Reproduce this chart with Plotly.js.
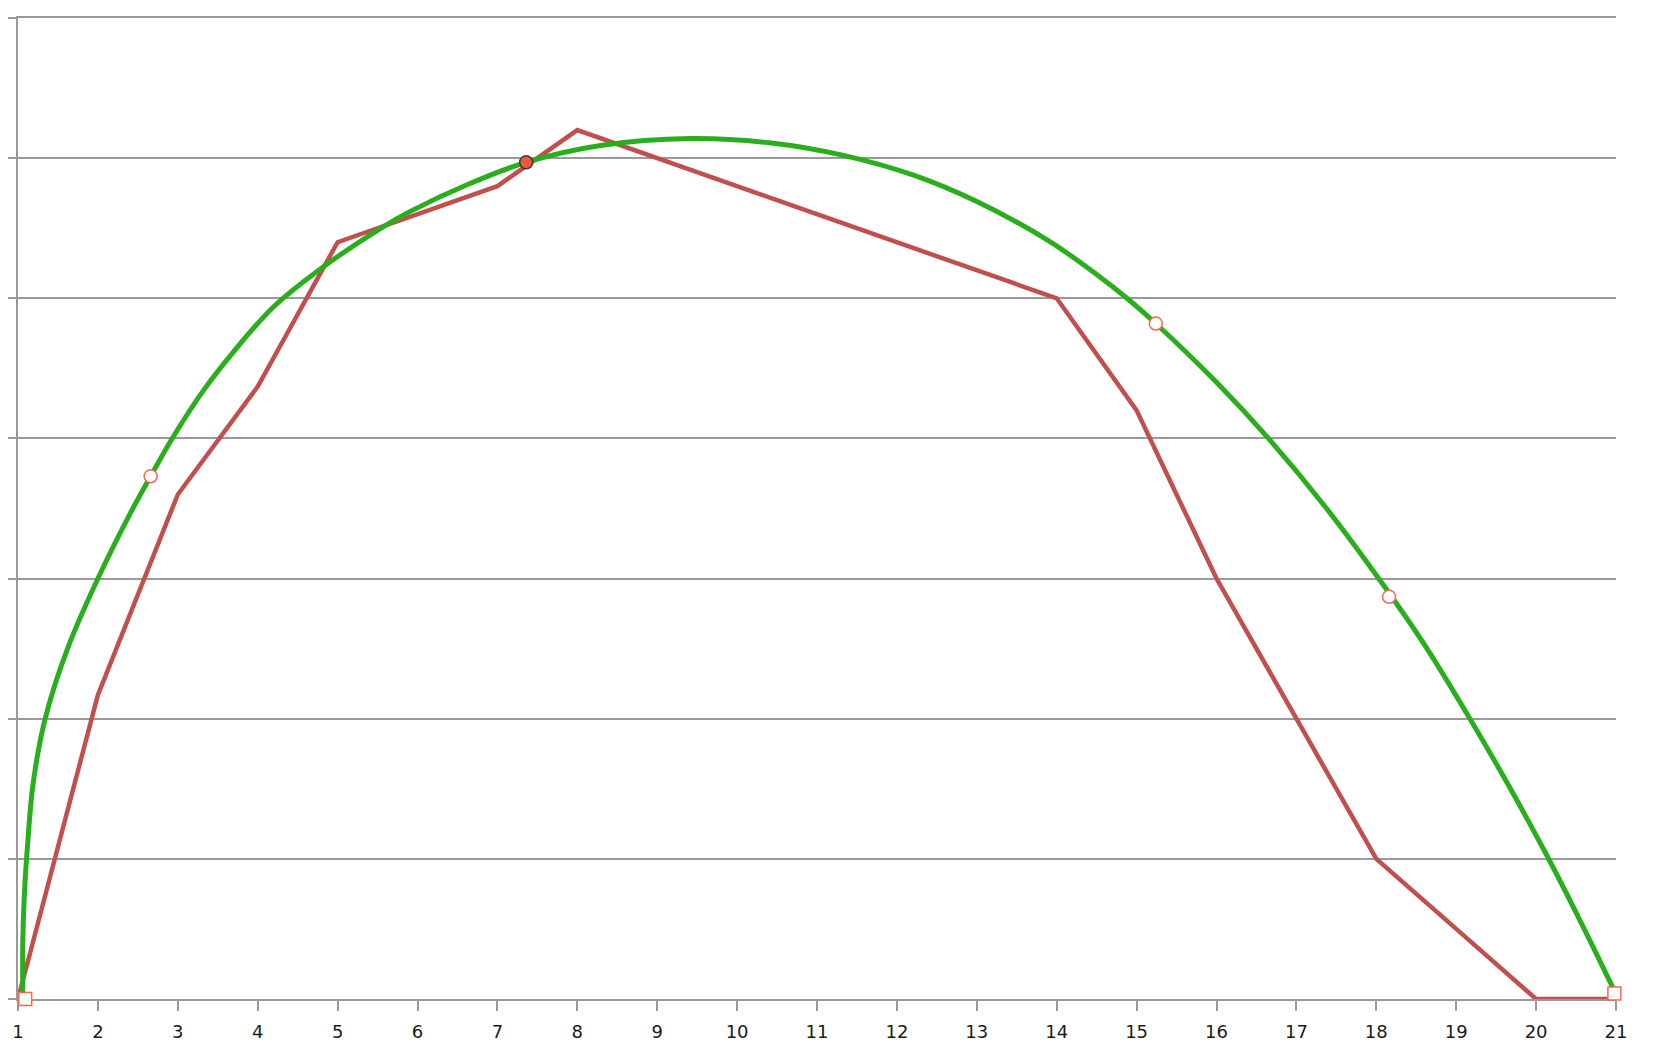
<!DOCTYPE html>
<html>
<head>
<meta charset="utf-8">
<script src="https://cdn.plot.ly/plotly-3.0.1.min.js"></script>
<style>
  html, body { margin: 0; padding: 0; background: #fff; }
  #plot { width: 1658px; height: 1048px; }
</style>
</head>
<body>
<div id="plot"></div>
<script>
// category axis 1..21
var categories = [1, 2, 3, 4, 5, 6, 7, 8, 9, 10, 11, 12, 13, 14, 15, 16, 17, 18, 19, 20, 21];

// red polyline values, one per category
var redValues = [0, 2.17, 3.6, 4.37, 5.4, 5.6, 5.8, 6.2, 6.0, 5.8, 5.6, 5.4, 5.2, 5.0, 4.2, 3.0, 2.0, 1.0, 0.5, 0, 0];

// green arc, points
var greenX = [1.06, 1.06, 1.08, 1.12, 1.19, 1.34, 1.62, 2.00, 2.40, 2.66, 2.93, 3.33, 3.70, 4.20, 4.81, 5.57, 5.91,
              6.62, 7.36, 8.29, 9.41, 10.40, 11.33, 12.20, 13.00, 13.90, 14.50, 14.88, 15.24, 16.00, 16.65,
              17.35, 18.03, 18.60, 19.14, 19.63, 20.12, 20.55, 20.97];
var greenY = [0, 0.40, 0.75, 1.10, 1.54, 2.00, 2.50, 3.00, 3.46, 3.73, 4.00, 4.35, 4.62, 4.94, 5.22, 5.51, 5.62,
              5.81, 5.97, 6.09, 6.14, 6.11, 6.02, 5.88, 5.69, 5.41, 5.17, 5.00, 4.82, 4.40, 4.00,
              3.52, 3.00, 2.53, 2.03, 1.55, 1.04, 0.56, 0.07];

// handle points sitting on the arc
var handleX = [1.09, 2.66, 7.36, 15.24, 18.16, 20.98];
var handleY = [0, 3.73, 5.97, 4.82, 2.87, 0.04];
var handleSymbols = ['square', 'circle', 'circle', 'circle', 'circle', 'square'];
var handleFill = ['#ffffff', '#ffffff', '#f0583a', '#ffffff', '#ffffff', '#ffffff'];
var handleEdge = ['#f06a52', '#f06a52', '#3a3a3a', '#f06a52', '#f06a52', '#f06a52'];

var red = {
  x: categories,
  y: redValues,
  type: 'scatter',
  mode: 'lines',
  line: { color: '#c0504d', width: 4.5 },
  cliponaxis: false,
  hoverinfo: 'skip'
};

var green = {
  x: greenX,
  y: greenY,
  type: 'scatter',
  mode: 'lines',
  line: { color: '#2aae1e', width: 5, shape: 'spline', smoothing: 1 },
  cliponaxis: false,
  hoverinfo: 'skip'
};

var handles = {
  x: handleX,
  y: handleY,
  type: 'scatter',
  mode: 'markers',
  marker: {
    symbol: handleSymbols,
    size: 13,
    color: handleFill,
    line: { color: handleEdge, width: 1.5 }
  },
  cliponaxis: false,
  hoverinfo: 'skip'
};

var layout = {
  width: 1658,
  height: 1048,
  margin: { l: 18, r: 42, t: 18, b: 49 },
  paper_bgcolor: '#ffffff',
  plot_bgcolor: '#ffffff',
  showlegend: false,
  font: { family: 'DejaVu Sans, sans-serif', size: 18, color: '#1a1a1a' },
  xaxis: {
    range: [1, 21],
    tickmode: 'array',
    tickvals: categories,
    ticktext: categories.map(String),
    tickfont: { family: 'DejaVu Sans, sans-serif', size: 18, color: '#1a1a1a' },
    showgrid: false,
    zeroline: false,
    showline: true,
    mirror: true,
    linecolor: '#9a9a9a',
    linewidth: 2,
    ticks: 'outside',
    ticklen: 10,
    tickwidth: 2,
    tickcolor: '#9a9a9a',
    ticklabelstandoff: 5,
    layer: 'below traces',
    fixedrange: true
  },
  yaxis: {
    range: [0, 7],
    dtick: 1,
    showticklabels: false,
    showgrid: true,
    gridcolor: '#9a9a9a',
    gridwidth: 2,
    zeroline: false,
    showline: true,
    linecolor: '#9a9a9a',
    linewidth: 2,
    ticks: 'outside',
    ticklen: 8,
    tickwidth: 2,
    tickcolor: '#9a9a9a',
    layer: 'below traces',
    fixedrange: true
  }
};

Plotly.newPlot('plot', [red, green, handles], layout, { displayModeBar: false, staticPlot: true });
</script>
</body>
</html>
